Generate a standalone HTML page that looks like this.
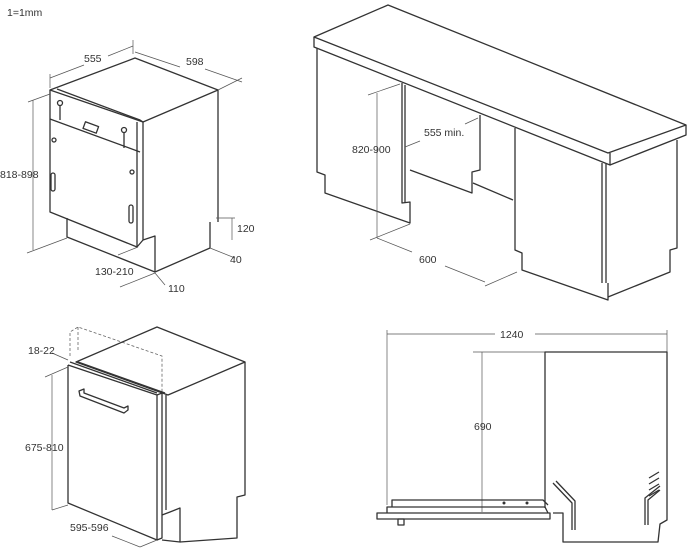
<!DOCTYPE html>
<html><head><meta charset="utf-8"><style>
html,body{margin:0;padding:0;background:#fff;}
svg{display:block;}
text{font-family:"Liberation Sans",sans-serif;font-size:10.5px;fill:#333;}
.l{fill:none;stroke:#333;stroke-width:1.3;stroke-linejoin:round;}
.t{fill:none;stroke:#555;stroke-width:0.7;}
.d{fill:none;stroke:#666;stroke-width:0.8;stroke-dasharray:3,2;}
</style></head><body>
<svg width="687" height="550" viewBox="0 0 687 550" xmlns="http://www.w3.org/2000/svg">
<text x="7" y="16">1=1mm</text>

<!-- Q1 dishwasher semi-integrated -->
<g>
<polygon class="l" points="50,90 135,58 218,90 143,122" fill="#fff"/>
<polyline class="l" points="57,89 140,120 143,122"/>
<polyline class="l" points="50,90 50,212 137,247 137,122"/>
<polyline class="l" points="143,122 143,240 137,247"/>
<line class="l" x1="50" y1="119" x2="140" y2="152"/>
<line class="l" x1="218" y1="90" x2="218" y2="222"/>
<polyline class="l" points="210,222 210,248 155,272"/>
<polyline class="l" points="67,218 67,237 155,272 155,236 143,240"/>
<rect class="l" x="84" y="124" width="14" height="7" transform="rotate(20 91 127)"/>
<circle class="l" cx="60" cy="103" r="2.5"/><line class="l" x1="60" y1="106" x2="60" y2="120"/>
<circle class="l" cx="124" cy="130" r="2.5"/><line class="l" x1="124" y1="133" x2="124" y2="148"/>
<circle class="l" cx="54" cy="140" r="2"/><circle class="l" cx="132" cy="172" r="2"/>
<rect class="l" x="51" y="173" width="4" height="18" rx="2"/>
<rect class="l" x="129" y="205" width="4" height="18" rx="2"/>
<!-- dims -->
<line class="t" x1="50" y1="78" x2="84" y2="65"/><line class="t" x1="108" y1="56" x2="133" y2="46"/>
<line class="t" x1="50" y1="74" x2="50" y2="88"/><line class="t" x1="133" y1="40" x2="133" y2="54"/>
<text x="84" y="62">555</text>
<line class="t" x1="135" y1="52" x2="180" y2="67"/><line class="t" x1="205" y1="69" x2="242" y2="82"/>
<line class="t" x1="242" y1="78" x2="218" y2="90"/>
<text x="186" y="65">598</text>
<line class="t" x1="33" y1="100" x2="33" y2="250"/>
<line class="t" x1="28" y1="102" x2="50" y2="94"/><line class="t" x1="27" y1="253" x2="67" y2="238"/>
<text x="0" y="178">818-898</text>
<line class="t" x1="232" y1="218" x2="232" y2="240"/><line class="t" x1="216" y1="218" x2="235" y2="218"/>
<text x="237" y="232">120</text>
<line class="t" x1="210" y1="248" x2="235" y2="258"/>
<text x="230" y="263">40</text>
<line class="t" x1="118" y1="255" x2="138" y2="247"/>
<text x="95" y="275">130-210</text>
<line class="t" x1="120" y1="287" x2="155" y2="273"/><line class="t" x1="155" y1="273" x2="165" y2="285"/>
<text x="168" y="292">110</text>
</g>

<!-- Q2 countertop -->
<g>
<polygon class="l" points="314,37 388,5 686,125 608,153" fill="#fff"/>
<polyline class="l" points="314,37 314,47 610,165 610,153"/>
<polyline class="l" points="610,165 686,135 686,125"/>
<polyline class="l" points="317,48 317,172 325,175 325,193 410,223 410,202 402,203 402,83"/>
<line class="l" x1="405" y1="85" x2="405" y2="203"/>
<polyline class="l" points="480,115 480,170 472,172 472,193 410,170"/>
<line class="l" x1="473" y1="183" x2="513" y2="200"/>
<polyline class="l" points="515,128 515,250 522,253 522,270 608,300 608,283"/>
<line class="l" x1="602" y1="163" x2="602" y2="283"/>
<line class="l" x1="606" y1="164" x2="606" y2="283"/>
<polyline class="l" points="677,140 677,248 670,250 670,272 608,297"/>
<line class="t" x1="377" y1="93" x2="377" y2="238"/>
<line class="t" x1="368" y1="95" x2="400" y2="84"/>
<text x="352" y="153">820-900</text>
<line class="t" x1="405" y1="147" x2="420" y2="141"/><line class="t" x1="465" y1="124" x2="478" y2="118"/>
<text x="424" y="136">555 min.</text>
<line class="t" x1="370" y1="240" x2="410" y2="224"/>
<line class="t" x1="377" y1="238" x2="412" y2="252"/><line class="t" x1="445" y1="266" x2="485" y2="282"/>
<line class="t" x1="485" y1="286" x2="517" y2="272"/>
<text x="419" y="263">600</text>
</g>

<!-- Q3 fully integrated -->
<g>
<polyline class="d" points="70,356 70,332 78,327 162,356 162,395"/>
<line class="d" x1="78" y1="327" x2="78" y2="352"/>
<polygon class="l" points="76,362 157,327 245,362 168,395" fill="#fff"/>
<polyline class="l" points="70,362 157,393"/>
<polyline class="l" points="78,362 165,393"/>
<polyline class="l" points="68,365 68,503 157,540 157,395 68,365"/>
<polyline class="l" points="157,395 162,393 162,538 157,540"/>
<line class="l" x1="166" y1="395" x2="166" y2="510"/>
<polyline class="l" points="245,362 245,495 237,497 237,538 180,542"/>
<polyline class="l" points="162,515 170,512 180,508 180,542 162,540"/>
<polygon class="l" points="79,391 84,389 84,393 124,408 128,406 128,410 124,413 80,396"/>
<line class="t" x1="52" y1="375" x2="52" y2="510"/>
<line class="t" x1="45" y1="377" x2="68" y2="367"/>
<line class="t" x1="52" y1="353" x2="68" y2="360"/>
<text x="28" y="354">18-22</text>
<text x="25" y="451">675-810</text>
<line class="t" x1="52" y1="510" x2="68" y2="505"/>
<line class="t" x1="112" y1="536" x2="140" y2="547"/>
<line class="t" x1="140" y1="547" x2="157" y2="540"/>
<text x="70" y="531">595-596</text>
</g>

<!-- Q4 side view -->
<g>
<line class="t" x1="387" y1="334" x2="495" y2="334"/><line class="t" x1="535" y1="334" x2="667" y2="334"/>
<text x="500" y="338">1240</text>
<line class="t" x1="387" y1="330" x2="387" y2="505"/>
<line class="t" x1="667" y1="330" x2="667" y2="352"/>
<line class="t" x1="473" y1="352" x2="545" y2="352"/>
<line class="t" x1="482" y1="352" x2="482" y2="512"/>
<text x="474" y="430">690</text>
<polyline class="l" points="545,508 545,352 667,352 667,520 660,524 658,542 563,542 563,513 553,513"/>
<rect class="l" x="377" y="513" width="173" height="6" fill="#fff"/>
<polyline class="l" points="387,513 387,507 545,507 548,513"/>
<polyline class="l" points="392,507 392,500 543,500 548,505"/>
<rect class="l" x="398" y="519" width="6" height="6"/>
<circle cx="504" cy="503" r="1.5" fill="#333"/><circle cx="527" cy="503" r="1.5" fill="#333"/>
<polyline class="l" points="553,483 572,503 572,530"/>
<polyline class="l" points="556,481 575,501 575,530"/>
<polyline class="l" points="648,525 648,500 660,490"/>
<polyline class="l" points="645,525 645,498 660,486"/>
<path class="l" d="M649,478 l10,-6 M649,484 l10,-6 M649,490 l10,-6 M649,496 l10,-6"/>
</g>
</svg>
</body></html>
